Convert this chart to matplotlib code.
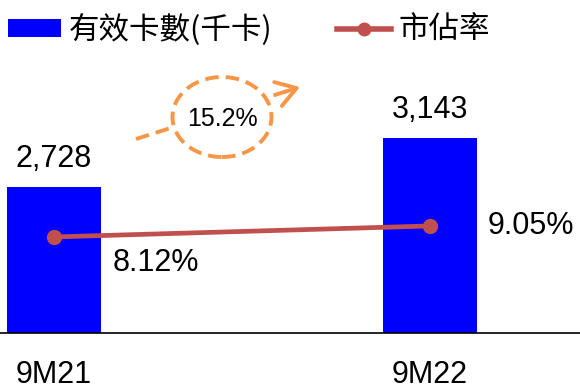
import matplotlib
matplotlib.use("Agg")
import matplotlib.pyplot as plt
from matplotlib.patches import Ellipse
from matplotlib.lines import Line2D
from matplotlib.patches import Patch

categories = ["9M21", "9M22"]
cards = [2728, 3143]
card_labels = ["2,728", "3,143"]
share = [8.12, 9.05]
share_labels = ["8.12%", "9.05%"]
growth_label = "15.2%"
legend_bar = "有效卡數(千卡)"
legend_line = "市佔率"

BLUE = "#0000FF"
RED = "#C0504D"
ORANGE = "#F79646"

plt.rcParams['font.family'] = ['Liberation Sans', 'Noto Sans CJK TC', 'DejaVu Sans']

W, H = 580, 386
fig = plt.figure(figsize=(W / 100, H / 100), dpi=100)
ax = fig.add_axes([0, 53 / H, 1, 333 / H])

x = list(range(len(categories)))
ax.bar(x, cards, width=0.25, color=BLUE, zorder=2)
ax.set_xlim(-0.1436, 1.399)
ax.set_ylim(1491, 4311)
for s in ["top", "left", "right"]:
    ax.spines[s].set_visible(False)
ax.spines["bottom"].set_linewidth(1.2)
ax.spines["bottom"].set_color("black")
ax.set_yticks([])
ax.set_xticks(x)
ax.set_xticklabels(categories, fontsize=22)
ax.tick_params(axis="x", length=0, pad=19.5)

for xi, v, lab in zip(x, cards, card_labels):
    ax.annotate(lab, (xi, v), xytext=(0, 9), textcoords="offset points",
                ha="center", va="bottom", fontsize=22)

ax2 = ax.twinx()
ax2.set_ylim(0, 28.15)
for s in ax2.spines.values():
    s.set_visible(False)
ax2.set_yticks([])
ax2.plot(x, share, color=RED, lw=3.4, marker="o", markersize=10, zorder=3,
         solid_capstyle="round")
for xi, v, lab in zip(x, share, share_labels):
    dy = -19 if xi == 0 else 0
    ax2.annotate(lab, (xi, v), xytext=(73, dy), textcoords="offset points",
                 ha="center", va="center", fontsize=22)

# growth annotation: dashed arrow behind dashed ellipse
def fx(px):
    return px / W

def fy(py):
    return 1 - py / H

fig.add_artist(Line2D([fx(136), fx(292)], [fy(139), fy(89.5)], transform=fig.transFigure,
                      color=ORANGE, lw=2.8, linestyle=(0, (3.5, 1.8)), zorder=4))
ax.annotate("", xy=(fx(300), fy(87)), xytext=(fx(285), fy(91.8)),
            xycoords="figure fraction", textcoords="figure fraction",
            arrowprops=dict(arrowstyle="->,head_length=0.7,head_width=0.45",
                            color=ORANGE, lw=2.8, mutation_scale=20,
                            shrinkA=0, shrinkB=0), zorder=5)
fig.add_artist(Ellipse((fx(222), fy(117)), 99 / W, 80 / H, transform=fig.transFigure,
                       facecolor="white", edgecolor=ORANGE, lw=2.8,
                       linestyle=(0, (3.5, 1.8)), zorder=6))
fig.text(fx(222), fy(119), growth_label, ha="center", va="center", fontsize=18, zorder=7)

handles = [Patch(facecolor=BLUE, edgecolor="none"),
           Line2D([0], [0], color=RED, lw=4, marker="o", markersize=9)]
leg = fig.legend(handles, [legend_bar, legend_line], loc="upper left",
                 bbox_to_anchor=(fx(8), fy(14)), ncol=2, frameon=False,
                 prop={'family': ['Noto Sans CJK TC'], 'size': 22},
                 handlelength=1.75, handleheight=0.55, handletextpad=0.25,
                 columnspacing=2.1, borderpad=0, borderaxespad=0)

fig.savefig("out.png", dpi=100)
